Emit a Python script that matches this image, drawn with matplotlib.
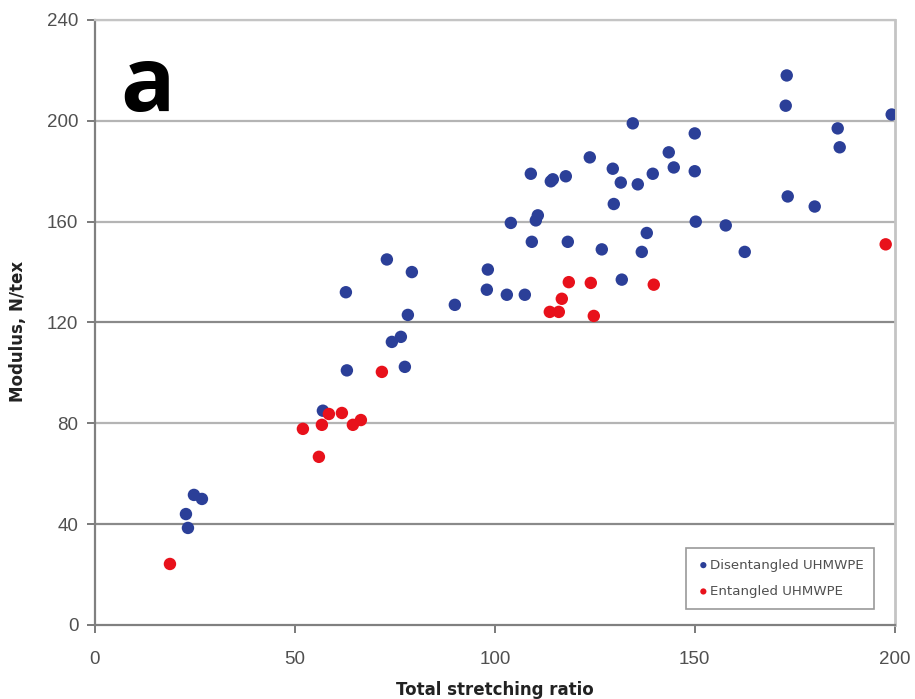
import matplotlib
matplotlib.use("Agg")
import matplotlib.pyplot as plt

# Disentangled UHMWPE
dis_x = [22.75, 23.25, 24.75, 26.75, 57, 62.75, 63, 73, 74.25, 76.5, 77.5, 78.25, 79.25,
         90, 98.25, 98, 103, 104, 107.5, 109, 109.25, 110.25, 110.75, 114, 114.5, 117.75,
         118.25, 123.75, 126.75, 129.5, 129.75, 131.5, 131.75, 134.5, 135.75, 136.75, 138,
         139.5, 143.5, 144.75, 150, 150, 150.25, 157.75, 162.5, 173, 172.75, 173.25, 180,
         185.75, 186.25, 199.25]
dis_y = [44, 38.5, 51.6, 50, 85, 132, 101, 145, 112.3, 114.3, 102.4, 123, 140,
         127, 141, 133, 131, 159.5, 131, 179, 152, 160.5, 162.5, 176, 176.8, 178,
         152, 185.5, 149, 181, 167, 175.5, 137, 199, 174.8, 148, 155.5,
         179, 187.5, 181.5, 195, 180, 160, 158.5, 148, 218, 206, 170, 166,
         197, 189.5, 202.5]

# Entangled UHMWPE
ent_x = [18.75, 52, 56, 56.75, 58.5, 61.75, 64.5, 66.5, 71.75,
         113.75, 116, 116.75, 118.5, 124, 124.75, 139.75, 197.75]
ent_y = [24.2, 77.8, 66.7, 79.4, 83.7, 84.1, 79.4, 81.3, 100.4,
         124.2, 124.2, 129.4, 136, 135.7, 122.6, 135, 151]

x_ticks = [0, 50, 100, 150, 200]
y_ticks = [0, 40, 80, 120, 160, 200, 240]

plt.rcParams['font.family'] = ['Liberation Sans', 'DejaVu Sans']

fig = plt.figure(figsize=(9.15, 6.99), dpi=100)
ax = fig.add_axes([0.1038, 0.1059, 0.874, 0.8655])

for yv in y_ticks[1:]:
    col = '#8a8a8a' if yv in (40, 120) else '#b4b4b4'
    ax.axhline(yv, color=col, lw=1.6, zorder=1)

ax.scatter(dis_x, dis_y, s=80, color='#2b3f98', edgecolors='none', zorder=3,
           label='Disentangled UHMWPE')
ax.scatter(ent_x, ent_y, s=80, color='#e8111b', edgecolors='none', zorder=3,
           label='Entangled UHMWPE')

ax.set_xlim(0, 200)
ax.set_ylim(0, 240)
ax.set_xticks(x_ticks)
ax.set_yticks(y_ticks)
ax.tick_params(axis='both', colors='#7a7a7a', labelcolor='#505050', labelsize=13.5,
               length=6, width=1.4, direction='out')
ax.tick_params(axis='x', pad=13)
ax.tick_params(axis='y', pad=6)

ax.spines['left'].set_color('#808080')
ax.spines['left'].set_linewidth(1.6)
ax.spines['bottom'].set_color('#808080')
ax.spines['bottom'].set_linewidth(1.6)
ax.spines['right'].set_color('#c4c4c4')
ax.spines['right'].set_linewidth(2)
ax.spines['top'].set_color('#c4c4c4')
ax.spines['top'].set_linewidth(1.6)

ax.set_xlabel('Total stretching ratio', fontsize=12, fontweight='bold', color='#222222',
              family=['DejaVu Sans'], labelpad=9)
ax.set_ylabel('Modulus, N/tex', fontsize=12, fontweight='bold', color='#222222',
              family=['DejaVu Sans'], labelpad=10)
ax.yaxis.set_label_coords(-0.085, 0.485)

ax.text(0.031, 0.962, 'a', transform=ax.transAxes, fontsize=65, fontweight='bold',
        family=['Open Sans', 'DejaVu Sans'], va='top', ha='left', color='black')

leg = ax.legend(loc='lower right', bbox_to_anchor=(0.983, 0.016),
                prop={'family': 'DejaVu Sans', 'size': 9.6},
                frameon=True, fancybox=False, handletextpad=0.0, markerscale=0.5,
                borderpad=0.8, labelspacing=1.0, handlelength=1.0)
leg.get_frame().set_edgecolor('#808080')
leg.get_frame().set_linewidth(1.2)
for t in leg.get_texts():
    t.set_color('#505050')

fig.savefig('out.png', dpi=100)
